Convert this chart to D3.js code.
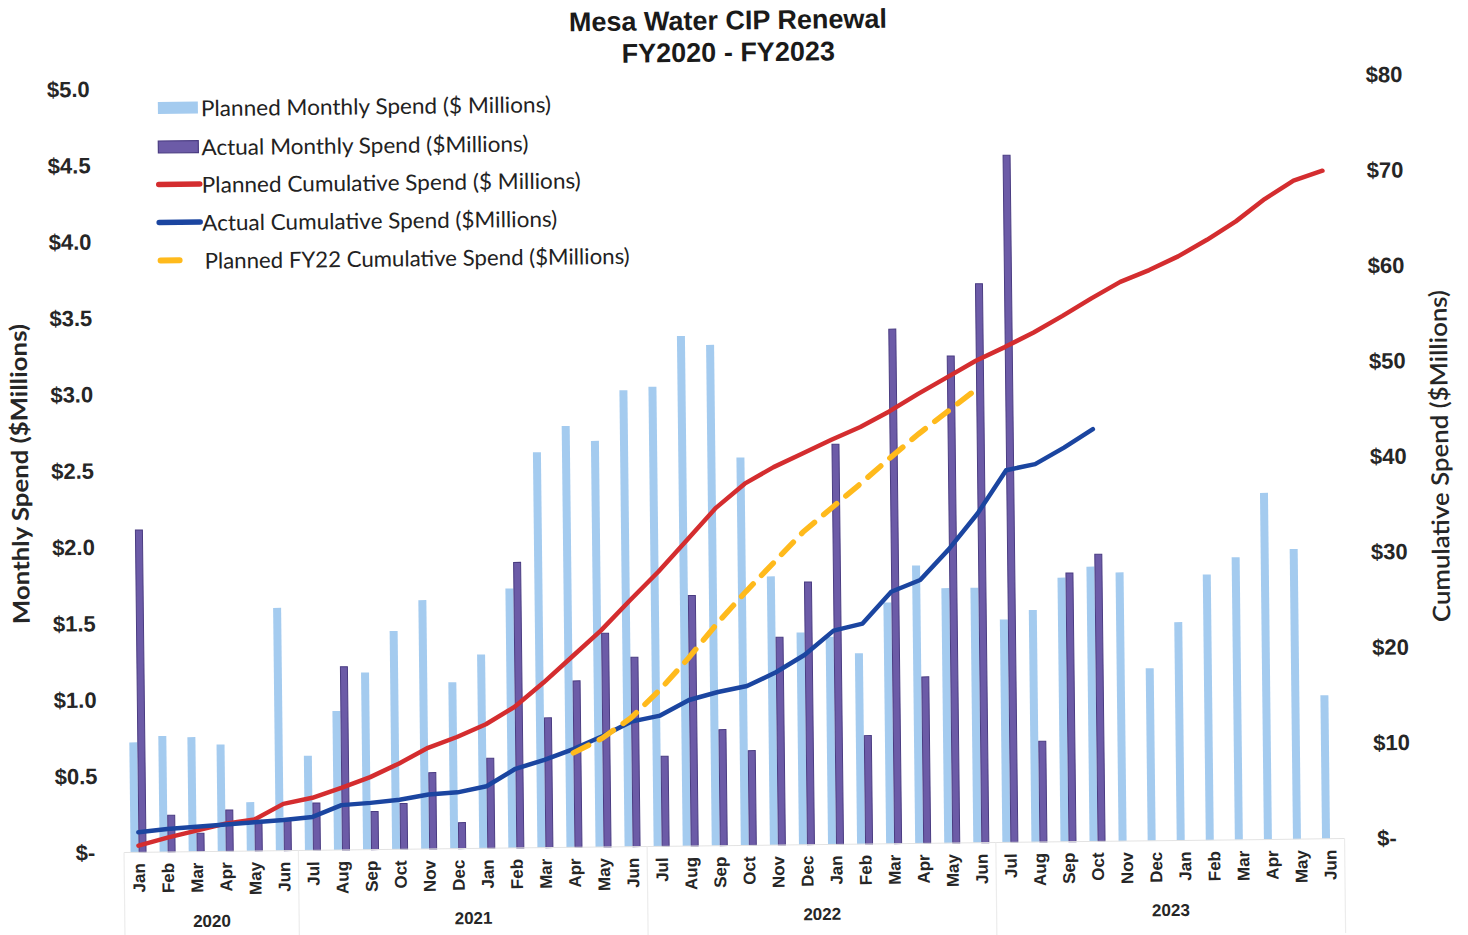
<!DOCTYPE html>
<html><head><meta charset="utf-8">
<script src="https://cdn.jsdelivr.net/npm/d3@7"></script>
<style>body{margin:0;background:#fff;overflow:hidden}</style>
</head><body>
<svg id="chart" width="1468" height="935"></svg>
<script>
const months = ["Jan","Feb","Mar","Apr","May","Jun",
  "Jul","Aug","Sep","Oct","Nov","Dec","Jan","Feb","Mar","Apr","May","Jun",
  "Jul","Aug","Sep","Oct","Nov","Dec","Jan","Feb","Mar","Apr","May","Jun",
  "Jul","Aug","Sep","Oct","Nov","Dec","Jan","Feb","Mar","Apr","May","Jun"];
const fiscalYears = ["2020","2021","2022","2023"];
const fiscalYearFirst = [0,6,18,30];
const fiscalYearLast = [5,17,29,41];
const plannedMonthly = [0.72,0.76,0.75,0.70,0.32,1.59,0.62,0.91,1.16,1.43,1.63,1.09,1.27,1.70,2.59,2.76,2.66,2.99,
  3.01,3.34,3.28,2.54,1.76,1.39,1.36,1.25,1.58,1.82,1.67,1.67,1.46,1.52,1.73,1.80,1.76,1.13,1.43,1.74,1.85,2.27,1.90,0.94];
const actualMonthly = [2.11,0.24,0.12,0.27,0.20,0.20,0.31,1.20,0.25,0.30,0.50,0.17,0.59,1.87,0.85,1.09,1.40,1.24,
  0.59,1.64,0.76,0.62,1.36,1.72,2.62,0.71,3.37,1.09,3.19,3.66,4.50,0.66,1.76,1.88];
const plannedCumulative = [0.7,1.5,2.2,2.9,3.3,4.9,5.5,6.5,7.6,9.0,10.6,11.7,13.0,14.8,17.3,20.0,22.7,25.8,
  28.8,32.1,35.4,37.9,39.6,41.0,42.4,43.7,45.3,47.1,48.8,50.5,51.9,53.4,55.1,56.9,58.6,59.8,61.2,62.9,64.8,67.1,69.0,70.0];
const actualCumulative = [2.1,2.4,2.6,2.8,3.0,3.2,3.5,4.7,4.9,5.2,5.7,5.9,6.5,8.3,9.2,10.3,11.6,13.1,
  13.7,15.3,16.1,16.7,18.1,19.9,22.4,23.1,26.4,27.6,30.8,34.5,39.0,39.6,41.3,43.2];
const fy22StartIndex = 15;
const plannedFY22Cumulative = [9.9,11.4,13.5,16.4,19.7,23.3,26.6,29.7,32.8,35.3,37.8,40.4,42.9,45.2,47.5];
const leftTicks = [0,0.5,1,1.5,2,2.5,3,3.5,4,4.5,5];
const rightTicks = [0,10,20,30,40,50,60,70,80];
const legendLabels = ["Planned Monthly Spend ($ Millions)","Actual Monthly Spend ($Millions)",
  "Planned Cumulative Spend ($ Millions)","Actual Cumulative Spend ($Millions)","Planned FY22 Cumulative Spend ($Millions)"];

const C = {planned:"#a4cbef", actual:"#6c5ba7", actualEdge:"#4a3c82", red:"#d42d2f", blue:"#1b45a0", yellow:"#ffba1c", text:"#262626"};
const svg = d3.select("#chart");
const g = svg.append("g").attr("transform","rotate(-0.65,734,467)");

const plotTop = 82, plotBottom = 845.5;
const x = d3.scaleBand().domain(d3.range(months.length)).range([119.7,1340.3]).padding(0);
const bw = x.bandwidth();
const cx = i => x(i) + bw/2;
const sub = d3.scaleBand().domain(["p","a"]).range([bw/2-8, bw/2+8]).padding(0);
const yL = d3.scaleLinear().domain([0,5]).range([plotBottom,plotTop]);
const yR = d3.scaleLinear().domain([0,80]).range([plotBottom,plotTop]);

// title
g.append("text").attr("x",733).attr("y",20).attr("dy","0.35em").attr("text-anchor","middle")
  .style("font","bold 27px 'Liberation Sans', Arial").attr("fill","#1a1a1a").text("Mesa Water CIP Renewal");
g.append("text").attr("x",733).attr("y",52).attr("dy","0.35em").attr("text-anchor","middle")
  .style("font","bold 27px 'Liberation Sans', Arial").attr("fill","#1a1a1a").text("FY2020 - FY2023");

// bars
g.append("g").selectAll("rect").data(plannedMonthly).join("rect")
  .attr("x",(d,i)=>x(i)+sub("p")).attr("width",sub.bandwidth())
  .attr("y",d=>yL(d)).attr("height",d=>plotBottom-yL(d)).attr("fill",C.planned);
g.append("g").selectAll("rect").data(actualMonthly).join("rect")
  .attr("x",(d,i)=>x(i)+sub("a")+0.5).attr("width",sub.bandwidth()-1)
  .attr("y",d=>yL(d)).attr("height",d=>plotBottom-yL(d)).attr("fill",C.actual)
  .attr("stroke",C.actualEdge).attr("stroke-width",1);

// axis baseline and group separators
g.append("line").attr("x1",x(0)).attr("x2",x(41)+bw).attr("y1",plotBottom).attr("y2",plotBottom)
  .attr("stroke","#e3e3e3").attr("stroke-width",1);
const seps = [x(0)].concat(fiscalYearLast.map(i=>x(i)+bw));
g.append("g").selectAll("line").data(seps).join("line")
  .attr("x1",d=>d).attr("x2",d=>d).attr("y1",plotBottom).attr("y2",940)
  .attr("stroke","#ececec").attr("stroke-width",1.2);

// lines
const line = (ys, off=0) => d3.line().x((d,i)=>cx(i+off)).y(d=>ys(d));
g.append("path").datum(plannedCumulative).attr("d",line(yR)).attr("fill","none")
  .attr("stroke",C.red).attr("stroke-width",4.5).attr("stroke-linejoin","round").attr("stroke-linecap","round");
g.append("path").datum(actualCumulative).attr("d",line(yR)).attr("fill","none")
  .attr("stroke",C.blue).attr("stroke-width",4.5).attr("stroke-linejoin","round").attr("stroke-linecap","round");
g.append("path").datum(plannedFY22Cumulative).attr("d",line(yR,fy22StartIndex)).attr("fill","none")
  .attr("stroke",C.yellow).attr("stroke-width",5.5).attr("stroke-dasharray","17,12").attr("stroke-linecap","round");

// left axis
const fmtL = d => d===0 ? "$-" : "$"+d3.format(".1f")(d);
const axL = g.append("g").attr("transform","translate(94,0)")
  .call(d3.axisLeft(yL).tickValues(leftTicks).tickFormat(fmtL).tickSize(0).tickPadding(0));
axL.select(".domain").remove();
axL.selectAll("text").style("font","bold 22px 'Liberation Sans', Arial").attr("fill",C.text)
  .attr("dx",d=>d===0?-3:0);

// right axis
const fmtR = d => d===0 ? "$-" : "$"+d;
const axR = g.append("g").attr("transform","translate(1370,0)")
  .call(d3.axisRight(yR).tickValues(rightTicks).tickFormat(fmtR).tickSize(0).tickPadding(0));
axR.select(".domain").remove();
axR.selectAll("text").style("font","bold 22px 'Liberation Sans', Arial").attr("fill",C.text)
  .attr("dx",d=>d===0?3:0);

// x axis
const axX = g.append("g").attr("transform",`translate(0,${plotBottom})`)
  .call(d3.axisBottom(x).tickFormat(i=>months[i]).tickSize(0));
axX.select(".domain").remove();
axX.selectAll("text").attr("transform","rotate(-90)").attr("x",-11).attr("y",0).attr("dy","0.36em")
  .style("text-anchor","end").style("font","bold 17px 'Liberation Sans', Arial").attr("fill",C.text);

// fiscal year labels
g.append("g").selectAll("text").data(fiscalYears).join("text")
  .attr("x",(d,k)=>(cx(fiscalYearFirst[k])+cx(fiscalYearLast[k]))/2).attr("y",915).attr("dy","0.35em")
  .attr("text-anchor","middle").style("font","bold 17px 'Liberation Sans', Arial").attr("fill",C.text).text(d=>d);

// axis titles
g.append("text").attr("transform","translate(20,466) rotate(-90)").attr("dy","0.35em").attr("text-anchor","middle")
  .attr("textLength",300).attr("lengthAdjust","spacingAndGlyphs")
  .style("font","bold 23px Lato, 'Open Sans'").attr("fill",C.text).text("Monthly Spend ($Millions)");
g.append("text").attr("transform","translate(1440,464) rotate(-90)").attr("dy","0.35em").attr("text-anchor","middle")
  .attr("textLength",332).attr("lengthAdjust","spacingAndGlyphs")
  .style("font","600 24px Lato, 'Open Sans'").attr("fill",C.text).text("Cumulative Spend ($Millions)");

// legend
const legRows = [101.5,140.5,178,216,254];
const legWidths = [350,327,379,355,425];
const leg = g.append("g");
legendLabels.forEach((lab,k)=>{
  const y = legRows[k];
  if(k===0) leg.append("rect").attr("x",162).attr("y",y-6).attr("width",40).attr("height",12).attr("fill",C.planned);
  if(k===1) leg.append("rect").attr("x",162).attr("y",y-6).attr("width",40).attr("height",12).attr("fill",C.actual)
      .attr("stroke",C.actualEdge).attr("stroke-width",1.2);
  if(k===2||k===3) leg.append("line").attr("x1",162).attr("x2",203).attr("y1",y).attr("y2",y)
      .attr("stroke",k===2?C.red:C.blue).attr("stroke-width",5.5).attr("stroke-linecap","round");
  if(k===4) leg.append("line").attr("x1",163).attr("x2",182).attr("y1",y).attr("y2",y)
      .attr("stroke",C.yellow).attr("stroke-width",6).attr("stroke-linecap","round");
  leg.append("text").attr("x",k===4?207:205).attr("y",y+1).attr("dy","0.35em")
    .attr("textLength",legWidths[k]).attr("lengthAdjust","spacingAndGlyphs")
    .style("font","22px Lato, 'Open Sans'").attr("fill","#222").text(lab);
});
</script>
</body></html>
